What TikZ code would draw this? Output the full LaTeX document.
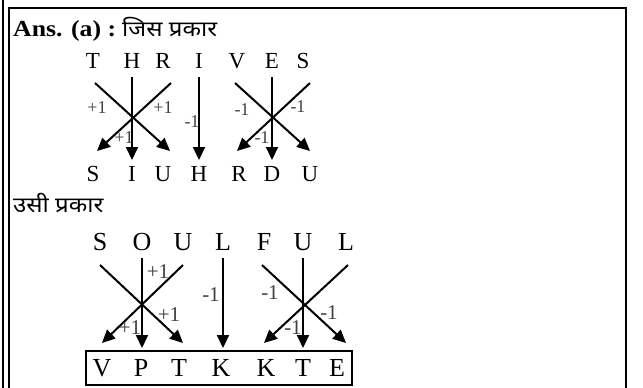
\documentclass[tikz,border=0pt]{standalone}
\usepackage{fontspec}
\setmainfont{Liberation Serif}
\newfontfamily\hindifont[Script=Devanagari]{Noto Sans}
\usetikzlibrary{arrows.meta}
\newcommand{\wide}[1]{\scalebox{1.12}[1]{#1}}

\begin{document}
\begin{tikzpicture}[x=1pt,y=-1pt,
          lt/.style={font=\fontsize{23}{23}\selectfont,inner sep=0pt},
          ltb/.style={font=\fontsize{26}{26}\selectfont,inner sep=0pt},
          lb/.style={font=\fontsize{18}{18}\selectfont,text=black!75,inner sep=0pt},
          lbb/.style={font=\fontsize{21}{21}\selectfont,text=black!75,inner sep=0pt},
          hd/.style={anchor=base west,inner sep=0pt},
          ar/.style={-{Triangle[length=13pt,width=12pt]},line width=2pt}]
        \useasboundingbox (0,0) rectangle (643,388);
        % frame
        \draw[line width=2pt] (3,0) -- (3,388);
        \draw[line width=2pt] (9,388) -- (9,7.5) -- (626,7.5) -- (626,388);
        % headings
        \node[hd] (ans) at (13,36) {\fontsize{23}{23}\selectfont\wide{\textbf{Ans. (a) :}}};
        \node[hd] (jis) at (122,36) {\hindifont\fontsize{21.5}{22}\selectfont\wide{जिस प्रकार}};
        \node[hd] (usi) at (13,212) {\hindifont\fontsize{21.5}{22}\selectfont\wide{उसी प्रकार}};
        % THRIVES -> SIUHRDU
        \node[lt] (thr1) at (93,61) {T};  \node[lt] (thr2) at (132,61) {H};
        \node[lt] (thr3) at (163,61) {R};  \node[lt] (thr4) at (199,61) {I};
        \node[lt] (thr5) at (237,61) {V};  \node[lt] (thr6) at (272,61) {E};
        \node[lt] (thr7) at (303,61) {S};
        \node[lt] (code1) at (93,174) {S};  \node[lt] (code2) at (132,174) {I};
        \node[lt] (code3) at (163,174) {U};  \node[lt] (code4) at (199,174) {H};
        \node[lt] (code5) at (239,174) {R};  \node[lt] (code6) at (272,174) {D};
        \node[lt] (code7) at (310,174) {U};
        \coordinate (f1) at (95,83);   \coordinate (e1) at (170,151);
        \coordinate (f2) at (132,77);  \coordinate (e2) at (132,160);
        \coordinate (f3) at (171,83);  \coordinate (e3) at (97,151);
        \coordinate (f4) at (199,77);  \coordinate (e4) at (199,160);
        \coordinate (f5) at (235,83);  \coordinate (e5) at (310,151);
        \coordinate (f6) at (272,77);  \coordinate (e6) at (272,160);
        \coordinate (f7) at (310,83);  \coordinate (e7) at (237,151);
        \draw[ar] (f1) -- (e1); \draw[ar] (f2) -- (e2); \draw[ar] (f3) -- (e3);
        \draw[ar] (f4) -- (e4); \draw[ar] (f5) -- (e5); \draw[ar] (f6) -- (e6);
        \draw[ar] (f7) -- (e7);
        \node[lb] (l1) at (97,108) {+1};  \node[lb] (l2) at (163,108) {+1};
        \node[lb] (l3) at (124,138) {+1}; \node[lb] (l4) at (192,122) {-1};
        \node[lb] (l5) at (242,110) {-1}; \node[lb] (l6) at (298,107) {-1};
        \node[lb] (l7) at (262,138) {-1};
        % SOULFUL -> VPTKKTE
        \node[ltb] (soul1) at (100,242) {S};  \node[ltb] (soul2) at (142,242) {O};
        \node[ltb] (soul3) at (183,242) {U};  \node[ltb] (soul4) at (223,242) {L};
        \node[ltb] (soul5) at (264,242) {F};  \node[ltb] (soul6) at (303,242) {U};
        \node[ltb] (soul7) at (346,242) {L};
        \node[draw,line width=2pt,minimum width=266pt,minimum height=34pt,
          inner sep=0pt] (box) at (219,368) {};
        \node[ltb] (res1) at (102,368) {V};  \node[ltb] (res2) at (141,368) {P};
        \node[ltb] (res3) at (179,368) {T};  \node[ltb] (res4) at (221,368) {K};
        \node[ltb] (res5) at (266,368) {K};  \node[ltb] (res6) at (303,368) {T};
        \node[ltb] (res7) at (337,368) {E};
        \coordinate (p1) at (100,265); \coordinate (q1) at (183,343);
        \coordinate (p2) at (142,258); \coordinate (q2) at (142,348);
        \coordinate (p3) at (183,265); \coordinate (q3) at (102,343);
        \coordinate (p4) at (223,258); \coordinate (q4) at (223,348);
        \coordinate (p5) at (262,265); \coordinate (q5) at (346,343);
        \coordinate (p6) at (303,258); \coordinate (q6) at (303,348);
        \coordinate (p7) at (348,265); \coordinate (q7) at (264,343);
        \draw[ar] (p1) -- (q1); \draw[ar] (p2) -- (q2); \draw[ar] (p3) -- (q3);
        \draw[ar] (p4) -- (q4); \draw[ar] (p5) -- (q5); \draw[ar] (p6) -- (q6);
        \draw[ar] (p7) -- (q7);
        \node[lbb] (l8) at (158,272) {+1};  \node[lbb] (l9) at (169,315) {+1};
        \node[lbb] (l10) at (130,328) {+1}; \node[lbb] (l11) at (211,295) {-1};
        \node[lbb] (l12) at (270,293) {-1}; \node[lbb] (l13) at (329,313) {-1};
        \node[lbb] (l14) at (293,328) {-1};
      \end{tikzpicture}
\end{document}
